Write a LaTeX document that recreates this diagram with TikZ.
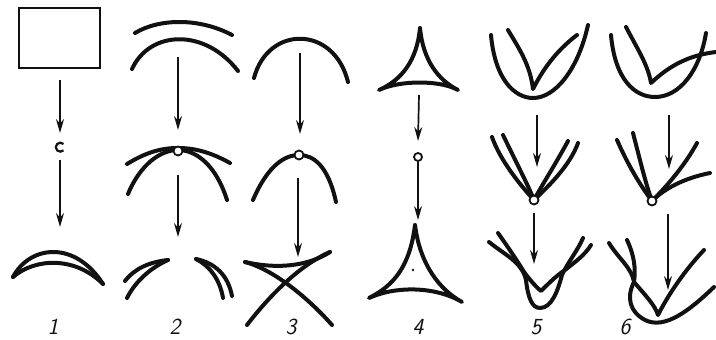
\documentclass[tikz,border=0pt]{standalone}
\usepackage{xcolor}
\definecolor{inkblack}{HTML}{111111}
\usetikzlibrary{arrows.meta}
\tikzset{
  cline/.style ={draw=inkblack, line width=4pt, line cap=round, line join=round},
  cthin/.style ={draw=inkblack, line width=2pt},
  carr/.style  ={-{Stealth[length=14pt, width=8pt]}, line width=1.7pt, color=inkblack},
  cpt/.style   ={circle, draw=inkblack, line width=1.8pt, fill=white, inner sep=0pt, minimum size=9pt},
  clbl/.style  ={font=\fontsize{23}{24}\selectfont\sffamily\itshape, text=inkblack, inner sep=0pt},
}
\begin{document}
\begin{tikzpicture}[x=1pt, y=-1pt]
  \useasboundingbox (0,0) rectangle (716,340);

  % column 1
  \draw[cthin] (19,8) rectangle (100,68);
  \coordinate (a1s) at (60,80);  \coordinate (a1e) at (60,133);
  \draw[carr] (a1s) -- (a1e);
  \draw[inkblack, line width=2.2pt] (63.5,144) arc[start angle=-45, end angle=-315, radius=4.5];
  \coordinate (b1s) at (60,160); \coordinate (b1e) at (60,227);
  \draw[carr] (b1s) -- (b1e);
  \draw[cline] (13,277) .. controls (30,245) and (75,240) .. (103,284);
  \draw[cline] (13,277) .. controls (35,258) and (75,256) .. (103,284);
  \node[clbl] (lbl1) at (53,327) {1};

  % column 2
  \draw[cline] (135,33) .. controls (160,18) and (200,18) .. (232,35);
  \draw[cline] (132,69) .. controls (150,30) and (205,28) .. (238,71);
  \coordinate (a2s) at (178,57);  \coordinate (a2e) at (178,130);
  \draw[carr] (a2s) -- (a2e);
  \draw[cline] (127,164) .. controls (145,153) and (160,148) .. (178,148) .. controls (196,148) and (212,153) .. (230,163);
  \draw[cline] (128,194) .. controls (140,165) and (160,150) .. (178,150) .. controls (196,150) and (216,165) .. (227,200);
  \node[cpt] (pt2) at (178,151) {};
  \coordinate (b2s) at (178,175); \coordinate (b2e) at (178,237);
  \draw[carr] (b2s) -- (b2e);
  \draw[cline] (168,260) .. controls (150,262) and (135,268) .. (125,281);
  \draw[cline] (168,260) .. controls (150,268) and (135,282) .. (127,298);
  \draw[cline] (196,259) .. controls (215,263) and (228,275) .. (232,296);
  \draw[cline] (196,259) .. controls (210,266) and (220,280) .. (223,298);
  \node[clbl] (lbl2) at (175,327) {2};

  % column 3
  \draw[cline] (254,78) .. controls (268,25) and (334,25) .. (348,82);
  \coordinate (a3s) at (300,53);  \coordinate (a3e) at (300,134);
  \draw[carr] (a3s) -- (a3e);
  \draw[cline] (253,200) .. controls (268,165) and (285,155) .. (299,155) .. controls (313,155) and (328,165) .. (336,202);
  \node[cpt] (pt3) at (299,155) {};
  \coordinate (b3s) at (298,178); \coordinate (b3e) at (298,257);
  \draw[carr] (b3s) -- (b3e);
  \draw[cline] (247,325) .. controls (270,295) and (300,265) .. (330,252);
  \draw[cline] (245,262) .. controls (275,270) and (310,300) .. (332,325);
  \draw[cline] (245,262) .. controls (280,270) and (310,265) .. (330,252);
  \node[clbl] (lbl3) at (291,327) {3};

  % column 4
  \draw[cline] (420,28) .. controls (417,60) and (402,80) .. (379,90)
               .. controls (400,80) and (440,80) .. (458,90)
               .. controls (438,80) and (423,60) .. (420,28);
  \coordinate (a4s) at (419,95);
  \node[cpt, minimum size=8pt] (pt4) at (418,157) {};
  \draw[carr] (a4s) -- (418,141);
  \coordinate (b4e) at (418,220);
  \draw[carr, line width=1.1pt] (pt4) -- (b4e);
  \draw[cline] (415,225) .. controls (410,265) and (395,285) .. (369,298)
               .. controls (395,286) and (435,286) .. (462,302)
               .. controls (440,290) and (420,265) .. (415,225);
  \fill[inkblack] (413,270) circle[radius=1.3];
  \node[clbl] (lbl4) at (418,327) {4};

  % column 5
  \draw[cline] (491,35) .. controls (495,80) and (515,98) .. (533,98) .. controls (555,98) and (578,70) .. (588,25);
  \draw[cline] (508,30) .. controls (520,50) and (530,65) .. (533,89) .. controls (545,65) and (560,48) .. (577,35);
  \coordinate (a5s) at (537,115); \coordinate (a5e) at (537,167);
  \draw[carr] (a5s) -- (a5e);
  \draw[cline] (492,137) .. controls (500,160) and (520,185) .. (534,200);
  \draw[cline] (503,135) .. controls (515,160) and (528,185) .. (534,200);
  \draw[cline] (568,141) .. controls (555,165) and (542,185) .. (534,200);
  \draw[cline] (578,143) .. controls (570,165) and (550,185) .. (534,200);
  \node[cpt] (pt5) at (534,200) {};
  \coordinate (b5s) at (534,213); \coordinate (b5e) at (534,264);
  \draw[carr] (b5s) -- (b5e);
  \draw[cline] (489,242) .. controls (505,255) and (522,262) .. (526,280)
               .. controls (528,298) and (532,308) .. (540,308)
               .. controls (552,308) and (558,290) .. (562,275)
               .. controls (568,262) and (578,250) .. (583,238);
  \draw[cline] (498,233) .. controls (510,250) and (518,262) .. (524,272)
               .. controls (530,280) and (536,287) .. (541,291)
               .. controls (548,284) and (556,276) .. (565,270)
               .. controls (575,262) and (585,255) .. (591,245);
  \node[clbl] (lbl5) at (536,327) {5};

  % column 6
  \draw[cline] (611,35) .. controls (615,80) and (635,97) .. (655,97) .. controls (680,97) and (700,70) .. (706,33);
  \draw[cline] (626,27) .. controls (638,50) and (648,65) .. (651,83) .. controls (670,65) and (690,55) .. (716,52);
  \coordinate (a6s) at (669,115); \coordinate (a6e) at (669,169);
  \draw[carr] (a6s) -- (a6e);
  \draw[cline] (617,140) .. controls (628,165) and (640,185) .. (652,201);
  \draw[cline] (633,133) .. controls (640,160) and (646,185) .. (652,201);
  \draw[cline] (697,143) .. controls (685,165) and (668,185) .. (652,201);
  \draw[cline] (710,173) .. controls (685,178) and (665,188) .. (652,201);
  \node[cpt] (pt6) at (652,201) {};
  \coordinate (b6s) at (668,214); \coordinate (b6e) at (668,290);
  \draw[carr] (b6s) -- (b6e);
  \draw[cline] (609,243) .. controls (618,258) and (632,268) .. (634,282)
               .. controls (626,298) and (630,312) .. (645,320)
               .. controls (665,330) and (690,310) .. (714,287);
  \draw[cline] (627,240) .. controls (634,255) and (636,268) .. (634,282)
               .. controls (645,295) and (655,305) .. (658,315)
               .. controls (668,295) and (685,270) .. (704,250);
  \node[clbl] (lbl6) at (625,327) {6};
\end{tikzpicture}
\end{document}
